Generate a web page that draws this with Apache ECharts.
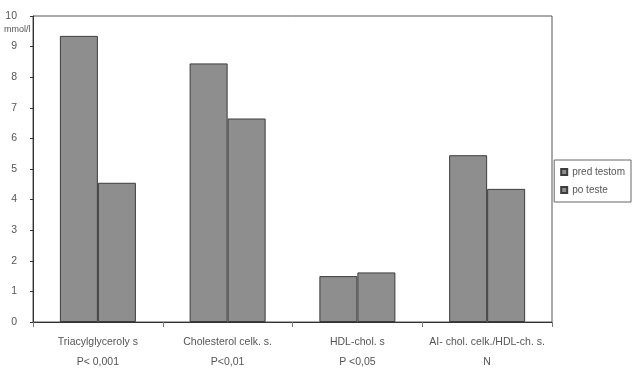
<!DOCTYPE html>
<html>
<head>
<meta charset="utf-8">
<script src="https://cdn.jsdelivr.net/npm/echarts@6/dist/echarts.min.js"></script>
<style>
html,body{margin:0;padding:0;background:#fff;}
#chart{width:639px;height:370px;}
</style>
</head>
<body>
<div id="chart"></div>
<script>
// Lipid parameters before and after the test
const categories = ['Triacylglyceroly s', 'Cholesterol celk. s.', 'HDL-chol. s', 'AI- chol. celk./HDL-ch. s.'];
const pValues = ['P< 0,001', 'P<0,01', 'P <0,05', 'N'];
const seriesNames = ['pred testom', 'po teste'];
const predTestom = [9.35, 8.45, 1.5, 5.45];
const poTeste = [4.55, 6.65, 1.62, 4.35];
const yTicks = [0, 1, 2, 3, 4, 5, 6, 7, 8, 9, 10];

const font = 'Liberation Sans, Arial, sans-serif';
const barStyle = { color: '#8e8e8e', borderColor: '#3c3c3c', borderWidth: 1 };

const chart = echarts.init(document.getElementById('chart'));
chart.setOption({
  animation: false,
  backgroundColor: '#fff',
  grid: { left: 33, right: 87, top: 16, bottom: 48, outerBoundsMode: 'none', containLabel: false,
          show: true, borderColor: '#555', borderWidth: 1, backgroundColor: 'transparent' },
  legend: {
    orient: 'vertical',
    right: 8, top: 160,
    itemWidth: 6, itemHeight: 6, itemGap: 8,
    padding: [7, 6, 7, 6],
    borderColor: '#666', borderWidth: 1,
    icon: 'rect',
    textStyle: { fontFamily: font, fontSize: 10, color: '#555' },
    data: seriesNames
  },
  xAxis: {
    type: 'category',
    data: categories.map((c, i) => c + '\n' + pValues[i]),
    axisLine: { lineStyle: { color: '#333' } },
    axisTick: { show: true, alignWithLabel: false, lineStyle: { color: '#777' } },
    axisLabel: { fontFamily: font, fontSize: 10.5, color: '#555', lineHeight: 20, margin: 10, interval: 0 }
  },
  yAxis: {
    type: 'value',
    min: yTicks[0], max: yTicks[yTicks.length - 1], interval: 1,
    splitLine: { show: false },
    axisLine: { show: true, lineStyle: { color: '#333' } },
    axisTick: { show: true, length: 3, lineStyle: { color: '#333' } },
    axisLabel: { fontFamily: font, fontSize: 10.5, color: '#555', margin: 16 }
  },
  graphic: [{
    type: 'text', left: 4, top: 25,
    style: { text: 'mmol/l', fontFamily: font, fontSize: 9, fill: '#555' }
  }],
  series: [
    { name: seriesNames[0], type: 'bar', data: predTestom, barWidth: 38, barGap: '0%', itemStyle: barStyle },
    { name: seriesNames[1], type: 'bar', data: poTeste, barWidth: 38, barGap: '0%', itemStyle: barStyle }
  ]
});
</script>
</body>
</html>
